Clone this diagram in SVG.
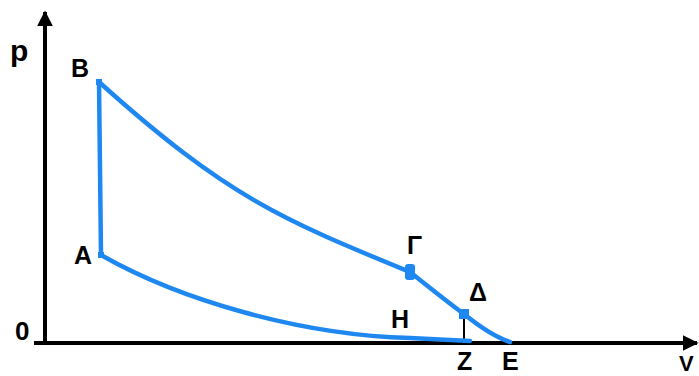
<svg xmlns="http://www.w3.org/2000/svg" width="699" height="376" viewBox="0 0 699 376">
<style>
.lbl{font-family:"Liberation Sans",Arial,sans-serif;font-weight:bold;font-size:25px;fill:#000}
.axis{stroke:#000;stroke-width:4;fill:none}
.curve{stroke:#1e88f0;stroke-width:4.5;fill:none;stroke-linejoin:round;stroke-linecap:round}
</style>
<defs>
<marker id="ah" viewBox="0 0 10 10" refX="9" refY="5" markerWidth="4" markerHeight="4" orient="auto" markerUnits="strokeWidth">
<path d="M0,0 L10,5 L0,10 Z" fill="#000"/>
</marker>
</defs>
<rect width="699" height="376" fill="#fff"/>
<g id="connectors">
<line class="axis" x1="45" y1="343" x2="45" y2="12" marker-end="url(#ah)"/>
<line class="axis" x1="34" y1="343" x2="697" y2="343" marker-end="url(#ah)"/>
<line x1="464" y1="314" x2="464" y2="342" stroke="#000" stroke-width="2"/>
<path class="curve" d="M99,82 L101,255"/>
<path class="curve" d="M99,82 C227,197 282,219.5 410,272 C430,288 450,304 464,314 C480,327 495,337 510,342"/>
<path class="curve" d="M101,255 C180,300 300,335 410,338 L470,341"/>
</g>
<g id="node-B"><rect x="96" y="79" width="6" height="6" fill="#1e88f0"/><text class="lbl" x="71" y="77">B</text></g>
<g id="node-A"><rect x="98" y="252" width="6" height="6" fill="#1e88f0"/><text class="lbl" x="74" y="264">A</text></g>
<g id="node-G"><rect x="405" y="264" width="10" height="16" rx="3" fill="#1e88f0"/><text class="lbl" x="407" y="254">Γ</text></g>
<g id="node-D"><rect x="459" y="309" width="10" height="10" fill="#1e88f0"/><text class="lbl" x="469" y="301">Δ</text></g>
<g id="node-H"><text class="lbl" x="391" y="328">H</text></g>
<g id="node-Z"><text class="lbl" x="457" y="370">Z</text></g>
<g id="node-E"><text class="lbl" x="502" y="370">E</text></g>
<g id="axis-labels">
<text class="lbl" x="10" y="61" style="font-size:30px">p</text>
<text class="lbl" x="15" y="340" style="font-size:26px">0</text>
<text class="lbl" x="679" y="371" style="font-size:22px">V</text>
</g>
</svg>
